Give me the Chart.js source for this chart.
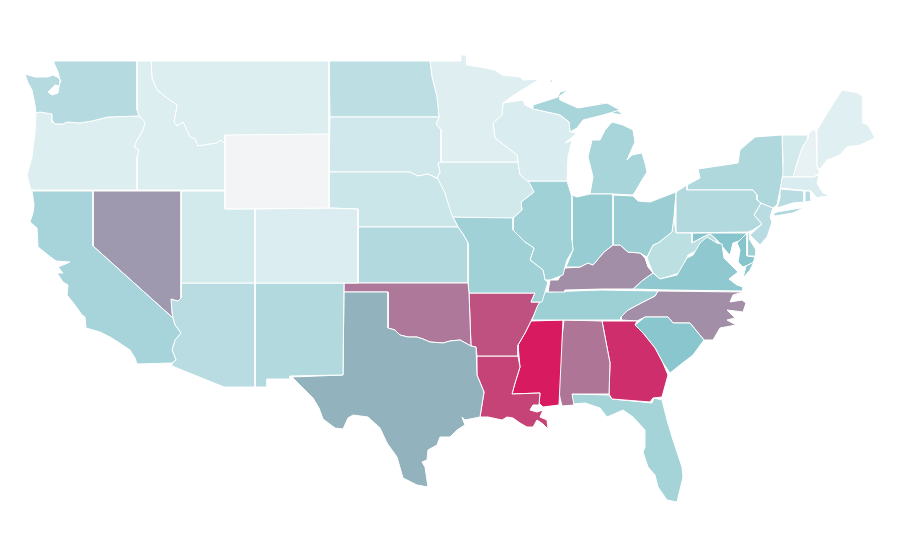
<!DOCTYPE html>
<html>
<head>
<meta charset="utf-8">
<title>US states choropleth</title>
<script src="https://cdn.jsdelivr.net/npm/chart.js@4"></script>
<style>
  html, body { margin: 0; padding: 0; background: #fff; }
  canvas { display: block; }
</style>
</head>
<body>
<canvas id="map" width="900" height="560"></canvas>
<script>
// state codes, in draw order
const stateCodes = ['WA','OR','ID','MT','WY','CA','NV','UT','CO','AZ','NM','TX','OK','KS','NE','SD','ND','MN','WI','IA','MO','IL','IN','OH','MI','KY','TN','AR','LA','MS','AL','GA','FL','SC','NC','VA','WV','PA','NY','NJ','MD','DE','CT','RI','MA','VT','NH','ME'];

// relative rate per state (0 - 100)
const stateValues = [28,10.5,10.5,10.5,0,34.5,65,14.5,11,27,30,58,74,30,18,16,24.5,9,12,15.5,38,38,42,40.5,34,68,39,85,89,100,75,94.6,36,48,68,45.5,25,30,31,27,49,39,27,28,12,14.5,5,8.6];

// outlines in map units, one or more rings per state
const stateOutlines = [
  ['54,61 137,61 137,110 139,116 108,117 92,121 80,123 67,122 63,124 55,124 52,120 52,114 40,112 36,113 35,105 32,90 28,83 25,74 35,77 48,77 53,75 57,77 61,80 59,86 55,85 48,92 52,95 58,93 60,80 58,72 54,63'],
  ['36,113 40,112 52,114 52,122 55,124 63,124 67,122 80,123 92,121 108,117 139,116 145,122 143,130 137,140 134,147 139,150 137,157 137,190 31,190 27,175 32,157 35,133'],
  ['137,61 151,61 152,78 157,90 167,98 177,105 174,122 177,126 183,122 190,137 195,139 198,146 217,143 221,140 225,144 225,190 137,190 137,157 139,150 134,147 137,140 143,130 145,122 139,116 137,110'],
  ['151,61 329,61 329,134 225,135 225,144 221,140 217,143 198,146 195,139 190,137 183,122 177,126 174,122 177,105 167,98 157,90 152,78'],
  ['225,135 265,134 329,134 329,208 225,209'],
  ['32,191 93,191 93,246 173,318 175,325 181,333 175,340 172,350 176,360 172,363 137,364 135,358 130,350 118,342 110,337 100,332 86,328 85,317 82,315 75,305 67,295 68,285 63,282 57,273 63,273 58,267 63,265 70,262 56,261 48,255 38,247 37,228 30,222 33,213 34,205'],
  ['93,191 181,191 181,298 178,301 171,299 172,313 173,318 93,246'],
  ['181,191 225,191 225,209 255,209 255,283 181,283'],
  ['255,209 329,208 358,209 358,283 255,283'],
  ['181,283 255,283 255,387 224,387 172,366 172,363 176,360 172,350 175,340 181,333 175,325 173,318 172,313 171,299 178,301 181,298'],
  ['255,283 344,283 343,375 290,376 290,379 267,379 267,387 255,387'],
  ['344,292 388,292 388,328 395,330 400,335 408,337 417,337 423,339 430,342 443,343 450,341 460,340 471,346 476,347 477,375 484,392 480,417 465,420 462,417 465,425 457,430 450,437 440,437 437,445 428,450 427,460 422,462 425,467 428,487 417,485 403,478 397,457 387,443 380,428 368,417 353,415 348,418 343,429 335,428 323,419 319,408 313,398 300,385 292,377 343,375'],
  ['344,283 468,283 469,293 471,346 460,340 450,341 443,343 430,342 423,339 417,337 408,337 400,335 395,330 388,328 388,292 344,292'],
  ['358,227 458,227 463,234 468,243 468,283 358,283'],
  ['329,172 410,172 418,176 428,174 438,179 445,193 451,213 458,227 358,227 358,209 329,208'],
  ['330,117 439,117 436,124 441,130 441,162 438,163 440,172 437,178 428,174 418,176 410,172 329,172'],
  ['329,61 430,61 432,77 437,97 439,117 330,117'],
  ['430,61 461,61 461,55 466,55 467,65 480,67 495,70 502,75 520,77 523,80 540,79 517,93 503,103 502,115 493,123 495,138 517,155 518,162 441,162 441,130 436,124 439,117 437,97 432,77'],
  ['503,103 523,100 525,105 533,109 560,115 569,122 570,132 577,133 565,143 572,140 568,157 567,181 527,181 520,175 518,162 517,155 495,138 493,123 502,115'],
  ['441,162 518,162 520,175 527,178 534,192 521,202 522,210 513,218 453,217 450,213 445,193 438,180 437,178 440,172 438,163'],
  ['453,217 513,217 513,230 525,242 534,248 530,260 543,270 545,280 548,282 545,292 542,302 531,302 535,293 469,293 468,283 468,243 463,234 458,227'],
  ['527,181 567,181 572,197 572,240 573,250 567,260 565,267 563,275 550,280 545,280 543,270 530,260 534,248 525,242 513,230 513,218 522,210 521,202 534,192'],
  ['572,195 577,197 590,194 613,194 613,245 604,252 593,265 588,263 580,267 566,267 573,250 572,240'],
  ['613,195 633,196 638,201 650,202 676,192 674,217 672,232 658,243 653,245 647,257 640,253 628,252 620,245 613,245'],
  ['590,194 593,177 588,157 592,140 600,140 605,130 612,122 623,125 633,130 635,142 627,160 632,155 642,153 645,163 647,172 642,180 635,192 633,195 613,194','533,105 558,97 560,92 568,90 560,96 560,100 578,108 607,103 620,110 603,115 583,120 577,128 570,132 569,122 560,115 533,109','600,103 608,103 615,108 623,115 610,113 600,115','548,82 553,79 552,82'],
  ['548,292 550,280 558,280 565,268 580,267 588,263 593,265 604,252 613,245 620,245 628,252 640,253 645,258 648,267 653,273 643,280 633,289 602,289 565,290 565,292'],
  ['545,292 602,290 658,291 655,296 643,302 628,310 621,317 621,320 532,320 537,307'],
  ['469,293 535,293 531,302 540,302 534,315 530,323 525,333 518,345 518,356 477,356 476,347 471,346'],
  ['477,356 518,356 520,367 515,383 512,394 540,393 539,405 533,405 530,410 537,412 543,410 540,417 547,420 548,429 543,424 537,420 533,427 527,427 520,423 513,418 507,417 502,420 488,417 480,417 484,392 477,375'],
  ['531,321 563,320 559,405 543,407 539,403 540,393 512,394 515,383 520,367 518,345 525,333'],
  ['564,320 602,321 610,363 609,394 572,394 574,405 562,406 560,398 558,383 562,337'],
  ['602,321 637,321 635,325 643,333 655,348 663,363 668,375 662,397 653,398 650,402 612,399 609,394 610,363'],
  ['572,394 609,395 612,399 652,403 654,398 662,400 667,420 673,440 682,467 683,477 677,502 667,500 658,487 655,475 648,467 643,452 645,447 645,430 633,417 623,410 607,417 600,408 585,403 573,404'],
  ['635,325 645,317 668,317 673,323 690,323 704,340 693,355 680,365 670,373 663,363 655,348 643,333'],
  ['658,291 743,292 733,295 730,302 742,300 746,303 743,312 727,310 735,318 727,320 736,325 720,328 713,340 704,340 690,323 673,323 668,317 645,317 637,321 621,320 621,317 628,310 643,302 655,296'],
  ['633,289 643,280 653,273 660,279 677,275 687,258 693,255 700,243 707,237 717,243 722,244 724,258 738,272 729,279 737,285 743,287 743,291 667,290','746,266 754,262 750,270 743,278'],
  ['647,258 653,245 658,243 672,232 674,217 676,233 692,233 692,243 703,237 710,234 717,240 715,243 708,238 698,250 688,255 680,273 660,279 653,273'],
  ['676,192 687,185 687,190 753,190 757,195 757,200 761,203 754,215 762,224 753,230 748,232 676,233'],
  ['687,185 700,178 698,169 718,166 738,163 740,150 755,137 782,135 783,173 780,190 777,205 773,208 761,203 757,200 757,195 753,190 687,190','773,214 777,212 800,208 803,208 793,213 775,216'],
  ['761,203 773,208 770,217 772,222 767,237 760,245 750,235 762,224 754,215'],
  ['692,233 747,233 739,241 733,243 730,255 727,252 717,240 710,234 703,237 692,243','747,233 747,256 755,257 753,263 743,267 738,262 740,250 737,243'],
  ['748,232 750,234 750,240 756,250 756,256 747,256'],
  ['780,189 804,191 804,202 793,203 777,208 780,198'],
  ['805,191 810,191 811,201 805,202'],
  ['782,177 813,177 819,175 817,183 823,193 830,196 820,197 817,198 811,191 780,188'],
  ['782,135 808,135 808,138 802,148 797,163 793,177 782,177 783,160'],
  ['808,135 812,130 816,130 817,167 820,173 813,177 793,177 797,163 802,148 808,138'],
  ['817,130 820,125 828,112 842,90 858,93 863,97 863,123 868,125 875,138 860,145 847,147 840,155 827,160 820,169 817,167']
];

// colour ramp stops: pale grey, pale teal, teal, slate, crimson
const rampStops = [0, 10.5, 50, 58, 100];
const rampColors = [[243,244,246],[220,238,240],[133,196,203],[146,178,189],[216,27,96]];

function rateColor(v) {
  let k = 0;
  while (k < rampStops.length - 2 && v > rampStops[k + 1]) k++;
  const t = (v - rampStops[k]) / (rampStops[k + 1] - rampStops[k]);
  const c = rampColors[k].map((n, i) => Math.round(n + (rampColors[k + 1][i] - n) * t));
  return 'rgb(' + c.join(',') + ')';
}

function ringPoints(ring) {
  const pts = ring.split(' ').map(p => {
    const xy = p.split(',');
    return { x: +xy[0], y: +xy[1] };
  });
  pts.push(pts[0]);
  return pts;
}

// every ring is its own closed line dataset
const datasets = [];
stateCodes.forEach((code, i) => {
  stateOutlines[i].forEach(ring => {
    datasets.push({
      label: code,
      data: ringPoints(ring),
      showLine: true,
      fill: 'shape',
      tension: 0,
      pointRadius: 0,
      borderWidth: 1,
      borderColor: '#ffffff',
      backgroundColor: rateColor(stateValues[i])
    });
  });
});

new Chart(document.getElementById('map'), {
  type: 'scatter',
  data: { datasets },
  options: {
    responsive: false,
    animation: false,
    layout: { padding: 0 },
    plugins: { legend: { display: false }, tooltip: { enabled: false } },
    scales: {
      x: { type: 'linear', min: 0, max: 900, display: false },
      y: { type: 'linear', min: 0, max: 560, reverse: true, display: false }
    }
  }
});
</script>
</body>
</html>
